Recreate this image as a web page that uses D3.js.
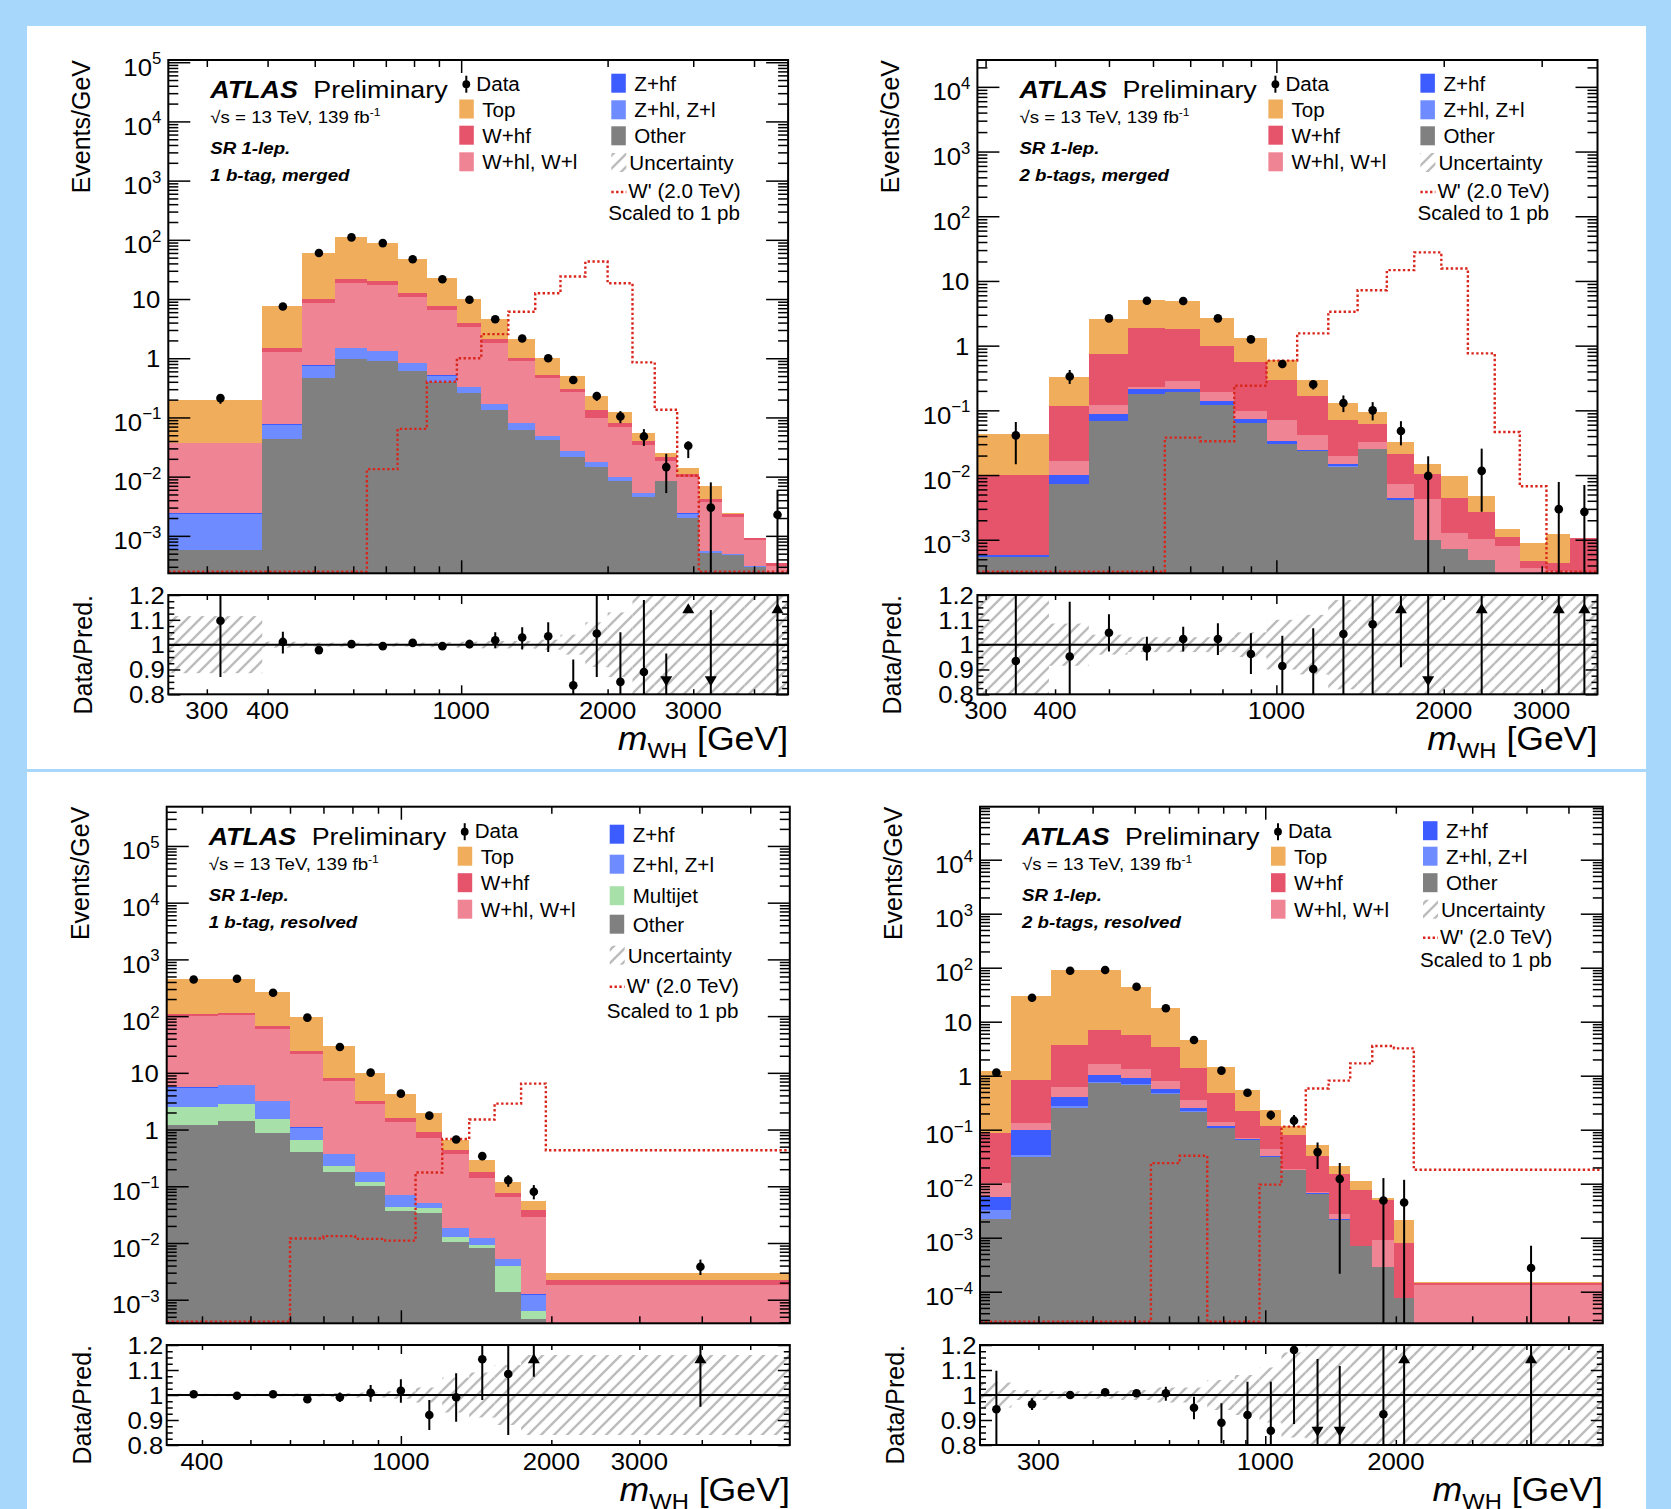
<!DOCTYPE html>
<html>
<head>
<meta charset="utf-8">
<script src="https://cdn.jsdelivr.net/npm/d3@7"></script>
<style>
  body { margin: 0; background: #a7d8fb; }
  svg { display: block; }
</style>
</head>
<body>
<div id="chart"></div>
<script>
// ---------------- data (events / GeV) ----------------

// top-left: 1 b-tag, merged
const tlEdges = [250, 390, 470, 550, 640, 740, 850, 980, 1100, 1250, 1420, 1600, 1800, 2000, 2250, 2500, 2780, 3080, 3440, 3820, 4240, 4700];
const tlOther = [5.8e-4, 0.043, 0.46, 0.97, 0.91, 0.60, 0.40, 0.26, 0.134, 0.0615, 0.0417, 0.0218, 0.0144, 0.0086, 0.0045, 0.0085, 0.00198, 5.2e-4, 4.75e-4, 3.0e-4, 2.0e-4];
const tlZhl = [0.0018, 0.032, 0.29, 0.50, 0.40, 0.23, 0.11, 0.065, 0.033, 0.019, 0.0065, 0.005, 0.0033, 0.0013, 0.0007, 0, 0.0004, 3e-5, 1.5e-5, 1e-5, 0];
const tlZhf = [5e-5, 0.002, 0.02, 0.04, 0.02, 0.015, 0.01, 0.005, 0.003, 0.001, 5e-4, 4e-4, 2e-4, 1e-4, 5e-5, 0, 5e-5, 1e-5, 0, 0, 0];
const tlWhl = [0.0346, 1.22, 7.7, 17.5, 16.2, 10.1, 5.9, 3.0, 1.62, 0.80, 0.41, 0.24, 0.081, 0.06, 0.029, 0.010, 0.0073, 0.0032, 0.00162, 5.4e-4, 1.14e-4];
const tlWhf = [5e-4, 0.18, 1.4, 3.2, 3.0, 1.9, 1.1, 0.66, 0.31, 0.12, 0.06, 0.033, 0.035, 0.012, 0.0057, 0.0027, 0.0013, 5e-4, 2e-4, 8e-5, 3e-5];
const tlTop = [0.157, 6.2, 51, 91, 67.5, 35, 15, 5.9, 2.46, 1.15, 0.48, 0.20, 0.096, 0.043, 0.014, 0.0035, 0.0028, 0.0027, 1.5e-4, 0, 0];
const tlSignal = [0, 0, 0, 0, 0.0134, 0.064, 0.40, 1.0, 2.55, 6.1, 12.5, 24, 43, 18.5, 0.85, 0.135, 0.0104, 0, 0, 0, 0];
const tlData = [0.212, 7.5, 60, 110, 88, 47, 21.6, 9.7, 4.56, 2.15, 1.0, 0.43, 0.23, 0.104, 0.0478, 0.0145, 0.0332, 0.0030, null, null, 0.00227];
const tlDataHi = [0.241, 7.8, 61.2, 112, 90, 48, 22.3, 10.0, 4.75, 2.3, 1.06, 0.48, 0.27, 0.128, 0.0635, 0.0243, 0.0394, 0.008, null, null, 0.006];
const tlDataLo = [0.170, 7.15, 58.8, 108, 86, 46, 20.9, 9.4, 4.35, 2.0, 0.94, 0.38, 0.19, 0.08, 0.033, 0.00527, 0.0206, 1e-6, null, null, 1e-6];
const tlRatio = [1.096, 1.011, 0.978, 1.002, 0.994, 1.007, 0.994, 1.002, 1.018, 1.029, 1.034, 0.836, 1.045, 0.85, 0.89, 0.58, 1.8, 0.4, null, null, 2.5];
const tlRatioHi = [1.3, 1.052, 0.99, 1.01, 1.005, 1.017, 1.009, 1.02, 1.05, 1.07, 1.09, 0.94, 1.3, 1.05, 1.18, 0.964, 2.5, 1.14, null, null, 5];
const tlRatioLo = [0.87, 0.964, 0.966, 0.994, 0.983, 0.997, 0.979, 0.985, 0.985, 0.98, 0.97, 0.75, 0.87, 0.75, 0.75, 0.4, 1.25, 0.2, null, null, 0.3];
const tlUnc = [0.115, 0.012, 0.008, 0.008, 0.008, 0.008, 0.01, 0.012, 0.015, 0.015, 0.02, 0.04, 0.09, 0.13, 0.22, 0.3, 0.3, 0.3, 0.3, 0.3, 0.3];

// top-right: 2 b-tags, merged
const trEdges = [290, 390, 460, 540, 630, 730, 840, 960, 1090, 1240, 1400, 1580, 1770, 1980, 2210, 2470, 2740, 3060, 3380, 3780];
const trOther = [5.4e-4, 0.0074, 0.0684, 0.177, 0.19, 0.119, 0.064, 0.0306, 0.0233, 0.0134, 0.0256, 0.0041, 9.9e-4, 7.1e-4, 4.8e-4, 1e-4, 2e-4, 2e-4, 2e-4];
const trZhl = [0, 0, 0, 0, 0, 0, 0, 0, 0, 5e-4, 0, 0, 0, 0, 0, 0, 0, 0, 0];
const trZhf = [4e-5, 0.0025, 0.0206, 0.035, 0.025, 0.019, 0.0088, 0.003, 0.0007, 0.0008, 0, 0.0003, 0, 0, 0, 0, 0, 0, 0];
const trWhl = [0, 0.0064, 0.030, 0.021, 0.065, 0.054, 0.025, 0.0364, 0.017, 0.0048, 0.0068, 0.0029, 0.00334, 5.4e-4, 5.3e-4, 7e-4, 1.6e-4, 1.3e-4, 1e-4];
const trWhf = [0.0093, 0.099, 0.62, 1.62, 1.5, 0.81, 0.455, 0.225, 0.126, 0.0505, 0.0284, 0.0142, 0.0062, 0.00324, 0.0017, 3.1e-4, 1.08e-4, 1.1e-4, 7.5e-4];
const trTop = [0.0337, 0.218, 1.84, 3.22, 3.1, 1.64, 0.75, 0.305, 0.128, 0.06, 0.0334, 0.011, 0.0042, 0.0052, 0.002, 3.8e-4, 4.3e-4, 7.8e-4, 0];
const trSignal = [0, 0, 0, 0, 0.0379, 0.0333, 0.24, 0.587, 1.55, 3.35, 7.2, 14.7, 27.6, 15.6, 0.76, 0.0463, 0.0067, 0, 0];
const trData = [0.041, 0.333, 2.64, 4.95, 4.89, 2.64, 1.25, 0.52, 0.252, 0.13, 0.1, 0.048, 0.0097, null, 0.0116, null, null, 0.00297, 0.0027];
const trDataHi = [0.066, 0.42, 2.9, 5.3, 5.2, 2.85, 1.36, 0.58, 0.29, 0.17, 0.134, 0.068, 0.0195, null, 0.0256, null, null, 0.0078, 0.0070];
const trDataLo = [0.0147, 0.256, 2.4, 4.6, 4.6, 2.45, 1.12, 0.45, 0.21, 0.094, 0.070, 0.0288, 1e-6, null, 0.0027, null, null, 1e-6, 1e-6];
const trRatio = [0.934, 0.952, 1.048, 0.985, 1.023, 1.023, 0.962, 0.914, 0.902, 1.043, 1.082, 1.5, 0.66, null, 2.4, null, null, 2.5, 2.5];
const trRatioHi = [1.3, 1.173, 1.122, 1.032, 1.072, 1.086, 1.046, 1.036, 1.066, 1.3, 1.3, 1.8, 1.3, null, 5, null, null, 5, 5];
const trRatioLo = [0.5, 0.5, 0.972, 0.936, 0.972, 0.958, 0.882, 0.7, 0.7, 0.5, 0.5, 0.909, 0.2, null, 0.3, null, null, 0.3, 0.3];
const trUnc = [0.3, 0.085, 0.04, 0.03, 0.03, 0.03, 0.05, 0.1, 0.12, 0.18, 0.3, 0.3, 0.3, 0.3, 0.3, 0.3, 0.3, 0.3, 0.3];

// bottom-left: 1 b-tag, resolved
const blEdges = [340, 430, 510, 600, 700, 810, 930, 1070, 1210, 1370, 1540, 1740, 1950, 6000];
const blOther = [1.22, 1.42, 0.87, 0.404, 0.175, 0.103, 0.0365, 0.034, 0.0105, 0.008, 0.00139, 4.5e-4, 0];
const blMultijet = [1.28, 1.45, 0.69, 0.263, 0.051, 0.017, 0.007, 0.0066, 0.0024, 0.0012, 0.0026, 1.7e-4, 0];
const blZhl = [3.0, 3.2, 1.6, 0.42, 0.138, 0.058, 0.026, 0.010, 0.0055, 0.0031, 0.0012, 6e-4, 0];
const blZhf = [0.14, 0.15, 0.08, 0.02, 0.004, 0.002, 0.001, 5e-4, 2e-4, 1e-4, 5e-5, 2e-5, 0];
const blWhl = [94, 97, 55.8, 20.7, 6.73, 2.61, 1.29, 0.672, 0.359, 0.125, 0.0583, 0.0278, 0.00182];
const blWhf = [10, 12, 7, 2.2, 1.0, 0.41, 0.27, 0.19, 0.066, 0.043, 0.0112, 0.009, 0.0004];
const blTop = [333, 340, 199, 72, 21.2, 6.9, 2.67, 1.06, 0.205, 0.116, 0.042, 0.0175, 0.0007];
const blSignal = [0, 0, 0, 0.012, 0.0132, 0.0118, 0.011, 0.175, 0.68, 1.5, 2.87, 6.45, 0.433];
const blData = [443, 455, 258, 94, 28.5, 10.1, 4.3, 1.76, 0.667, 0.34, 0.128, 0.080, 0.00382];
const blDataHi = [450, 462, 263, 96, 29.5, 10.6, 4.6, 1.9, 0.74, 0.4, 0.157, 0.105, 0.0051];
const blDataLo = [436, 448, 253, 92, 27.5, 9.6, 4.0, 1.62, 0.6, 0.29, 0.098, 0.0588, 0.00272];
const blRatio = [1.003, 0.997, 1.003, 0.983, 0.991, 1.009, 1.017, 0.92, 0.991, 1.143, 1.084, 1.45, 1.35];
const blRatioHi = [1.008, 1.002, 1.008, 0.99, 1.01, 1.04, 1.063, 0.98, 1.087, 1.3, 1.3, 2.0, 2.0];
const blRatioLo = [0.998, 0.992, 0.998, 0.976, 0.972, 0.973, 0.969, 0.86, 0.893, 0.98, 0.84, 1.073, 0.953];
const blUnc = [0.005, 0.005, 0.005, 0.006, 0.008, 0.01, 0.015, 0.03, 0.07, 0.09, 0.12, 0.16, 0.16];

// bottom-right: 2 b-tags, resolved
const brEdges = [220, 260, 320, 390, 465, 545, 635, 735, 850, 970, 1090, 1240, 1400, 1570, 1765, 1980, 2200, 6000];
const brOther = [0.00225, 0.0308, 0.248, 0.74, 0.671, 0.451, 0.216, 0.106, 0.0634, 0.0308, 0.0177, 0.0065, 0.00209, 7.1e-4, 2.83e-4, 7.6e-5, 0];
const brZhl = [0.00095, 0.0036, 0.026, 0.034, 0.03, 0.02, 0.009, 0.003, 0.002, 0.0005, 0, 0, 0, 0, 0, 0, 0];
const brZhf = [0.00246, 0.064, 0.123, 0.256, 0.192, 0.087, 0.023, 0.01, 0.0018, 0.0007, 5e-4, 1e-4, 1.5e-4, 0, 0, 0, 0];
const brWhl = [0.0046, 0.0324, 0.228, 0.61, 0.417, 0.25, 0.106, 0.022, 0.003, 0.0118, 5e-4, 3e-4, 5e-4, 0, 6.4e-4, 0, 1.35e-4];
const brWhf = [0.0764, 0.70, 3.08, 5.36, 4.27, 2.54, 1.016, 0.343, 0.155, 0.073, 0.062, 0.0261, 0.0125, 0.007, 0.00414, 7.2e-4, 8e-6];
const brTop = [1.15, 29, 86.8, 83.5, 38.9, 14.35, 3.21, 0.95, 0.318, 0.114, 0.036, 0.0198, 0.0063, 0.0033, 3.7e-4, 0.0013, 8e-6];
const brSignal = [0, 0, 0, 0, 0, 0.0241, 0.033, 0, 0, 0.0096, 0.114, 0.58, 0.81, 1.69, 3.54, 3.2, 0.0181];
const brData = [1.14, 27.8, 88, 90.5, 44.5, 17.7, 4.58, 1.24, 0.484, 0.187, 0.147, 0.0385, 0.0122, null, 0.0049, 0.0045, 2.74e-4];
const brDataHi = [1.27, 29, 90, 92.5, 46, 18.4, 4.85, 1.35, 0.55, 0.225, 0.187, 0.058, 0.0242, null, 0.0127, 0.0118, 7.1e-4];
const brDataLo = [1.02, 26.6, 86, 88.5, 43, 17, 4.3, 1.12, 0.42, 0.152, 0.114, 0.0187, 2.15e-4, null, 1e-7, 1e-7, 1e-7];
const brRatio = [0.943, 0.963, 1.0, 1.011, 1.007, 1.007, 0.949, 0.889, 0.92, 0.857, 1.18, 0.7, 0.6, null, 0.923, 1.6, 1.8];
const brRatioHi = [1.097, 0.987, 1.008, 1.02, 1.02, 1.033, 0.993, 0.967, 1.053, 1.053, 1.196, 1.144, 1.116, null, 1.3, 3, 3];
const brRatioLo = [0.7, 0.94, 0.992, 1.002, 0.993, 0.977, 0.903, 0.807, 0.7, 0.7, 0.884, 0.3, 0.3, null, 0.3, 0.5, 0.5];
const brUnc = [0.05, 0.02, 0.015, 0.015, 0.02, 0.03, 0.03, 0.06, 0.08, 0.11, 0.17, 0.2, 0.3, 0.3, 0.3, 0.3, 0.3];

// legend entries
const legendLeft = ["Data", "Top", "W+hf", "W+hl, W+l"];
const legendRight = ["Z+hf", "Z+hl, Z+l", "Other", "Uncertainty", "W' (2.0 TeV)", "Scaled to 1 pb"];
const legendRightBL = ["Z+hf", "Z+hl, Z+l", "Multijet", "Other", "Uncertainty", "W' (2.0 TeV)", "Scaled to 1 pb"];

// ---------------- styling ----------------
const W = 1671, H = 1509;
const FONT = "'Liberation Sans', Arial, Helvetica, sans-serif";
const colors = {
  Top: "#f0ad5b", Whf: "#e6546b", Whl: "#ef8494", Zhf: "#3d5cff", Zhl: "#6e8bff",
  Mj: "#a8e0aa", Other: "#808080"
};
const legendColor = {
  "Top": colors.Top, "W+hf": colors.Whf, "W+hl, W+l": colors.Whl, "Z+hf": colors.Zhf,
  "Z+hl, Z+l": colors.Zhl, "Multijet": colors.Mj, "Other": colors.Other
};
const sigColor = "#d9261c";

const stdKeys = ["Other", "Zhl", "Zhf", "Whl", "Whf", "Top"];
const blKeys = ["Other", "Mj", "Zhl", "Zhf", "Whl", "Whf", "Top"];

const panels = [
  { x0: 168.3, x1: 788.1, y0: 60, y1: 573.3, r0: 595, r1: 694.3,
    xDomain: [250, 4700], yDomain: [2.33e-4, 1.09e5], exps: [-3, 5], xLabels: [300, 400, 1000, 2000, 3000],
    edges: tlEdges, keys: stdKeys,
    series: { Other: tlOther, Zhl: tlZhl, Zhf: tlZhf, Whl: tlWhl, Whf: tlWhf, Top: tlTop },
    signal: tlSignal, data: tlData, dataHi: tlDataHi, dataLo: tlDataLo,
    ratio: tlRatio, ratioHi: tlRatioHi, ratioLo: tlRatioLo, unc: tlUnc,
    region: ["SR 1-lep.", "1 b-tag, merged"], legend2: legendRight,
    rows1: [30.7, 56.5, 82.7, 109.3], rows2: [30.7, 57.3, 83.3, 110, 138, 159.5] },
  { x0: 977.4, x1: 1597.5, y0: 60, y1: 573.3, r0: 595, r1: 694.3,
    xDomain: [290, 3780], yDomain: [3.03e-4, 2.6e4], exps: [-3, 4], xLabels: [300, 400, 1000, 2000, 3000],
    edges: trEdges, keys: stdKeys,
    series: { Other: trOther, Zhl: trZhl, Zhf: trZhf, Whl: trWhl, Whf: trWhf, Top: trTop },
    signal: trSignal, data: trData, dataHi: trDataHi, dataLo: trDataLo,
    ratio: trRatio, ratioHi: trRatioHi, ratioLo: trRatioLo, unc: trUnc,
    region: ["SR 1-lep.", "2 b-tags, merged"], legend2: legendRight,
    rows1: [30.7, 56.5, 82.7, 109.3], rows2: [30.7, 57.3, 83.3, 110, 138, 159.5] },
  { x0: 166.7, x1: 789.8, y0: 806.7, y1: 1323.3, r0: 1345, r1: 1445,
    xDomain: [340, 6000], yDomain: [3.84e-4, 4.92e5], exps: [-3, 5], xLabels: [400, 1000, 2000, 3000],
    edges: blEdges, keys: blKeys,
    series: { Other: blOther, Mj: blMultijet, Zhl: blZhl, Zhf: blZhf, Whl: blWhl, Whf: blWhf, Top: blTop },
    signal: blSignal, data: blData, dataHi: blDataHi, dataLo: blDataLo,
    ratio: blRatio, ratioHi: blRatioHi, ratioLo: blRatioLo, unc: blUnc,
    region: ["SR 1-lep.", "1 b-tag, resolved"], legend2: legendRightBL,
    rows1: [31.5, 57, 83.5, 110], rows2: [35, 65, 96.5, 125, 156, 186, 211.5] },
  { x0: 980, x1: 1602.8, y0: 806.7, y1: 1323.3, r0: 1345, r1: 1445,
    xDomain: [220, 6000], yDomain: [2.6e-5, 9.58e4], exps: [-4, 4], xLabels: [300, 1000, 2000],
    edges: brEdges, keys: stdKeys,
    series: { Other: brOther, Zhl: brZhl, Zhf: brZhf, Whl: brWhl, Whf: brWhf, Top: brTop },
    signal: brSignal, data: brData, dataHi: brDataHi, dataLo: brDataLo,
    ratio: brRatio, ratioHi: brRatioHi, ratioLo: brRatioLo, unc: brUnc,
    region: ["SR 1-lep.", "2 b-tags, resolved"], legend2: legendRight,
    rows1: [31.5, 57, 83.5, 110], rows2: [31.5, 57, 83.5, 110, 137, 160] }
];

// ---------------- page ----------------
const svg = d3.select("#chart").append("svg")
    .attr("width", W).attr("height", H)
    .attr("font-family", FONT);

svg.append("rect").attr("width", W).attr("height", H).attr("fill", "#a7d8fb");
svg.append("rect").attr("x", 27).attr("y", 26).attr("width", 1619).attr("height", H - 26).attr("fill", "#fff");
svg.append("rect").attr("x", 27).attr("y", 769).attr("width", 1619).attr("height", 3).attr("fill", "#a7d8fb");

const defs = svg.append("defs");
const hatch = defs.append("pattern").attr("id", "hatch")
    .attr("patternUnits", "userSpaceOnUse").attr("width", 13).attr("height", 13);
hatch.append("path").attr("d", "M-2,15 L15,-2 M-2,2 L2,-2 M11,15 L15,11")
    .attr("stroke", "#bcbcbc").attr("stroke-width", 2.4);

// text, slightly widened like the original figure
function txt(g, x, y, size, opts) {
  opts = opts || {};
  const sx = opts.sx || 1.05;
  return g.append("text")
      .attr("transform", "translate(" + x + "," + y + ") scale(" + sx + ",1)" + (opts.rot ? " rotate(" + opts.rot + ")" : ""))
      .attr("font-size", size)
      .attr("text-anchor", opts.anchor || "start")
      .attr("font-weight", opts.bold ? "bold" : "normal")
      .attr("font-style", opts.italic ? "italic" : "normal")
      .attr("fill", "#000");
}

// inward ticks through a d3 axis, labels drawn separately
function ticks(g, axisFn, scale, vals, len, tx, ty) {
  g.append("g")
      .attr("transform", "translate(" + tx + "," + ty + ")")
      .call(axisFn(scale).tickValues(vals).tickSize(len).tickFormat(""))
      .call(a => a.select(".domain").remove())
      .selectAll("line").attr("stroke", "#000").attr("stroke-width", 1.5);
}

function logTicks(domain, decades) {
  const major = [], minor = [];
  decades.forEach(d => {
    for (let k = 1; k <= 9; k++) {
      const v = k * Math.pow(10, d);
      if (v > domain[0] * 1.001 && v < domain[1] * 0.999) (k === 1 ? major : minor).push(v);
    }
  });
  return { major: major, minor: minor };
}

function drawPanel(p, idx) {
  const g = svg.append("g");
  const n = p.edges.length - 1;
  const x = d3.scaleLog().domain(p.xDomain).range([p.x0, p.x1]);
  const y = d3.scaleLog().domain(p.yDomain).range([p.y1, p.y0]).clamp(true);
  const yr = d3.scaleLinear().domain([0.8, 1.2]).range([p.r1, p.r0]).clamp(true);
  const yv = v => y(Math.max(v, p.yDomain[0] * 0.5));

  defs.append("clipPath").attr("id", "main" + idx).append("rect")
      .attr("x", p.x0).attr("y", p.y0).attr("width", p.x1 - p.x0).attr("height", p.y1 - p.y0);
  defs.append("clipPath").attr("id", "ratio" + idx).append("rect")
      .attr("x", p.x0).attr("y", p.r0).attr("width", p.x1 - p.x0).attr("height", p.r1 - p.r0);

  // stacked backgrounds
  const main = g.append("g").attr("clip-path", "url(#main" + idx + ")");
  const rows = d3.range(n).map(i => {
    const r = {};
    p.keys.forEach(k => r[k] = p.series[k][i]);
    return r;
  });
  const stacked = d3.stack().keys(p.keys)(rows);
  const area = d3.area().curve(d3.curveStepAfter)
      .x(d => x(d.e)).y0(d => yv(d.lo)).y1(d => yv(d.hi));
  stacked.forEach(s => {
    const pts = p.edges.map((e, j) => {
      const b = s[Math.min(j, n - 1)];
      return { e: e, lo: b[0], hi: b[1] };
    });
    main.append("path").attr("d", area(pts))
        .attr("fill", colors[s.key]).attr("shape-rendering", "crispEdges");
  });

  // W' signal
  const sigLine = d3.line().curve(d3.curveStepAfter)
      .x(d => x(d.e)).y(d => Math.min(yv(d.v), p.y1 - 1.5));
  main.append("path")
      .attr("d", sigLine(p.edges.map((e, j) => ({ e: e, v: p.signal[Math.min(j, n - 1)] }))))
      .attr("fill", "none").attr("stroke", sigColor)
      .attr("stroke-width", 2.4).attr("stroke-dasharray", "2.4,2.4");

  // data
  const centre = i => x((p.edges[i] + p.edges[i + 1]) / 2);
  const pts = d3.range(n).filter(i => p.data[i] != null);
  main.selectAll(".err").data(pts).enter().append("line")
      .attr("x1", centre).attr("x2", centre)
      .attr("y1", i => yv(p.dataHi[i])).attr("y2", i => yv(p.dataLo[i]))
      .attr("stroke", "#000").attr("stroke-width", 2);
  main.selectAll(".pt").data(pts).enter().append("circle")
      .attr("cx", centre).attr("cy", i => yv(p.data[i])).attr("r", 4.3).attr("fill", "#000");

  // ratio panel
  const rat = g.append("g").attr("clip-path", "url(#ratio" + idx + ")");
  d3.range(n).forEach(i => {
    const u = p.unc[i];
    rat.append("rect")
        .attr("x", x(p.edges[i])).attr("width", x(p.edges[i + 1]) - x(p.edges[i]))
        .attr("y", yr(1 + u)).attr("height", yr(1 - u) - yr(1 + u))
        .attr("fill", "url(#hatch)");
  });
  rat.append("line").attr("x1", p.x0).attr("x2", p.x1).attr("y1", yr(1)).attr("y2", yr(1))
      .attr("stroke", "#000").attr("stroke-width", 2);
  const rpts = d3.range(n).filter(i => p.ratio[i] != null);
  rat.selectAll(".rerr").data(rpts).enter().append("line")
      .attr("x1", centre).attr("x2", centre)
      .attr("y1", i => yr(p.ratioHi[i])).attr("y2", i => yr(p.ratioLo[i]))
      .attr("stroke", "#000").attr("stroke-width", 2);
  rpts.forEach(i => {
    const r = p.ratio[i], cx = centre(i);
    if (r > 1.2) {
      const cy = yr(1.145);
      rat.append("path").attr("d", "M" + (cx - 6) + "," + (cy + 4.5) + "L" + (cx + 6) + "," + (cy + 4.5) + "L" + cx + "," + (cy - 5.5) + "Z").attr("fill", "#000");
    } else if (r < 0.8) {
      const cy = yr(0.855);
      rat.append("path").attr("d", "M" + (cx - 6) + "," + (cy - 4.5) + "L" + (cx + 6) + "," + (cy - 4.5) + "L" + cx + "," + (cy + 5.5) + "Z").attr("fill", "#000");
    } else {
      rat.append("circle").attr("cx", cx).attr("cy", yr(r)).attr("r", 4.3).attr("fill", "#000");
    }
  });

  // ticks
  const yt = logTicks(p.yDomain, d3.range(-6, 7));
  const xt = logTicks(p.xDomain, [2, 3]);
  ticks(g, d3.axisRight, y, yt.major, 22, p.x0, 0);
  ticks(g, d3.axisRight, y, yt.minor, 10, p.x0, 0);
  ticks(g, d3.axisLeft, y, yt.major, 22, p.x1, 0);
  ticks(g, d3.axisLeft, y, yt.minor, 10, p.x1, 0);
  ticks(g, d3.axisTop, x, xt.major, 13, 0, p.y1);
  ticks(g, d3.axisTop, x, xt.minor, 7, 0, p.y1);
  ticks(g, d3.axisBottom, x, xt.major, 13, 0, p.y0);
  ticks(g, d3.axisBottom, x, xt.minor, 7, 0, p.y0);

  const rMajor = [0.8, 0.9, 1.0, 1.1, 1.2];
  const rMinor = d3.range(17).filter(k => k % 4 !== 0).map(k => 0.8 + k * 0.025);
  ticks(g, d3.axisRight, yr, rMajor, 12, p.x0, 0);
  ticks(g, d3.axisRight, yr, rMinor, 6, p.x0, 0);
  ticks(g, d3.axisLeft, yr, rMajor, 12, p.x1, 0);
  ticks(g, d3.axisLeft, yr, rMinor, 6, p.x1, 0);
  ticks(g, d3.axisTop, x, xt.major, 9, 0, p.r1);
  ticks(g, d3.axisTop, x, xt.minor, 5, 0, p.r1);
  ticks(g, d3.axisBottom, x, xt.major, 9, 0, p.r0);
  ticks(g, d3.axisBottom, x, xt.minor, 5, 0, p.r0);

  // frames
  g.append("rect").attr("x", p.x0).attr("y", p.y0).attr("width", p.x1 - p.x0).attr("height", p.y1 - p.y0)
      .attr("fill", "none").attr("stroke", "#000").attr("stroke-width", 2);
  g.append("rect").attr("x", p.x0).attr("y", p.r0).attr("width", p.x1 - p.x0).attr("height", p.r1 - p.r0)
      .attr("fill", "none").attr("stroke", "#000").attr("stroke-width", 2);

  // axis labels
  d3.range(p.exps[0], p.exps[1] + 1).forEach(e => {
    const ty = y(Math.pow(10, e));
    if (e === 0 || e === 1) {
      txt(g, p.x0 - 8, ty + 9, 24.5, { anchor: "end" }).text(e === 0 ? "1" : "10");
    } else {
      const t = txt(g, p.x0 - 7, ty + 13.5, 24.5, { anchor: "end" });
      t.append("tspan").text("10");
      t.append("tspan").attr("font-size", 16).attr("dy", -11.5).text(e < 0 ? "\u2212" + (-e) : e);
    }
  });
  ["0.8", "0.9", "1", "1.1", "1.2"].forEach(s => {
    txt(g, p.x0 - 3.5, yr(+s) + 8.8, 24.5, { anchor: "end" }).text(s);
  });
  p.xLabels.forEach(v => {
    txt(g, x(v), p.r1 + 24.5, 24.5, { anchor: "middle" }).text(v);
  });
  const xt2 = txt(g, p.x1, p.r1 + 56, 33, { anchor: "end", sx: 1.08 });
  xt2.append("tspan").attr("font-style", "italic").text("m");
  xt2.append("tspan").attr("font-size", 22).attr("dy", 8).text("WH");
  xt2.append("tspan").attr("dy", -8).text("\u00a0[GeV]");
  txt(g, p.x0 - 78, p.y0, 25, { anchor: "end", rot: -90 }).text("Events/GeV");
  txt(g, p.x0 - 76, p.r0, 25, { anchor: "end", rot: -90 }).text("Data/Pred.");

  // ATLAS label
  const L = p.x0, T = p.y0;
  txt(g, L + 42, T + 38, 24, { bold: true, italic: true, sx: 1.12 }).text("ATLAS");
  txt(g, L + 145, T + 38, 24, { sx: 1.12 }).text("Preliminary");
  const lum = txt(g, L + 42, T + 63, 17, { sx: 1.1 });
  lum.append("tspan").text("\u221as = 13 TeV, 139 fb");
  lum.append("tspan").attr("font-size", 11).attr("dy", -7).text("-1");
  txt(g, L + 42, T + 94, 17, { bold: true, italic: true, sx: 1.1 }).text(p.region[0]);
  txt(g, L + 42, T + 121, 17, { bold: true, italic: true, sx: 1.1 }).text(p.region[1]);

  // legend, left column
  legendLeft.forEach((lab, k) => {
    const by = T + p.rows1[k];
    let tx = L + 314;
    if (lab === "Data") {
      g.append("line").attr("x1", L + 298).attr("x2", L + 298).attr("y1", by - 15).attr("y2", by + 2)
          .attr("stroke", "#000").attr("stroke-width", 2);
      g.append("circle").attr("cx", L + 298).attr("cy", by - 6.5).attr("r", 3.9).attr("fill", "#000");
      tx = L + 308;
    } else {
      g.append("rect").attr("x", L + 291).attr("y", by - 17).attr("width", 14.5).attr("height", 19)
          .attr("fill", legendColor[lab]);
    }
    txt(g, tx, by, 20, { sx: 1.03 }).text(lab);
  });

  // legend, right column
  p.legend2.forEach((lab, k) => {
    const by = T + p.rows2[k];
    let tx = L + 466;
    if (lab === "Uncertainty") {
      g.append("rect").attr("x", L + 443).attr("y", by - 17).attr("width", 15).attr("height", 19)
          .attr("fill", "url(#hatch)");
      tx = L + 461;
    } else if (lab.indexOf("W'") === 0) {
      g.append("line").attr("x1", L + 443).attr("x2", L + 458).attr("y1", by - 6).attr("y2", by - 6)
          .attr("stroke", sigColor).attr("stroke-width", 2.4).attr("stroke-dasharray", "2.4,2.4");
      tx = L + 460;
    } else if (lab.indexOf("Scaled") === 0) {
      tx = L + 440;
    } else {
      g.append("rect").attr("x", L + 443).attr("y", by - 17).attr("width", 14.5).attr("height", 19)
          .attr("fill", legendColor[lab]);
    }
    txt(g, tx, by, 20, { sx: 1.03 }).text(lab);
  });
}

panels.forEach(drawPanel);
</script>
</body>
</html>
